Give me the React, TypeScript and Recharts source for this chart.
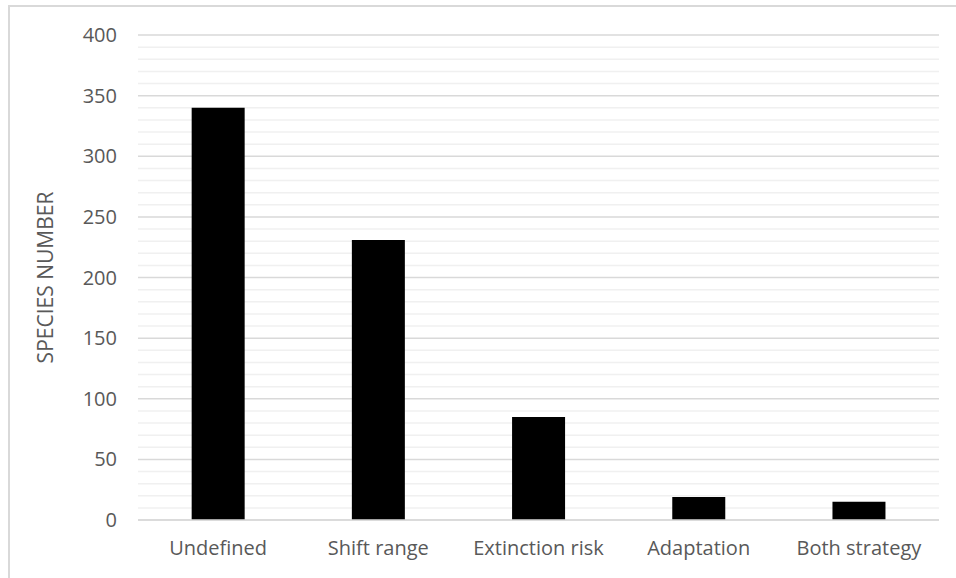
import React from "react";
import { BarChart, Bar, XAxis, YAxis, CartesianGrid } from "recharts";

const categories = ["Undefined", "Shift range", "Extinction risk", "Adaptation", "Both strategy"];
const speciesCounts = [340, 231, 85, 19, 15];
const yTicks = [0, 50, 100, 150, 200, 250, 300, 350, 400];
const minorTicks = [
  10, 20, 30, 40, 60, 70, 80, 90, 110, 120, 130, 140, 160, 170, 180, 190,
  210, 220, 230, 240, 260, 270, 280, 290, 310, 320, 330, 340, 360, 370, 380, 390,
];

const data = categories.map((name, i) => ({ name, value: speciesCounts[i] }));

const font = "'Open Sans', 'Liberation Sans', sans-serif";
const textColor = "#595959";

const App: React.FC = () => {
  return (
    <div style={{ position: "absolute", left: 0, top: 0, width: 956, height: 578, overflow: "hidden", background: "#fff" }}>
      <div
        style={{
          position: "absolute",
          left: 8,
          top: 5,
          width: 1000,
          height: 700,
          borderLeft: "2px solid #d9d9d9",
          borderTop: "2px solid #d9d9d9",
        }}
      />
      <div style={{ position: "absolute", left: 0, top: 0 }}>
        <BarChart
          width={956}
          height={578}
          data={data}
          margin={{ top: 35, right: 17, bottom: 0, left: 38 }}
          barCategoryGap="33.5%"
        >
          <CartesianGrid vertical={false} horizontalValues={minorTicks} stroke="#f0f0f0" strokeWidth={1.5} />
          <CartesianGrid vertical={false} horizontalValues={yTicks} stroke="#d9d9d9" strokeWidth={1.5} />
          <XAxis
            dataKey="name"
            height={58}
            tickLine={false}
            tickSize={0}
            tickMargin={21}
            axisLine={{ stroke: "#d9d9d9", strokeWidth: 1.5 }}
            tick={{ fill: textColor, fontSize: 20, fontFamily: font }}
          />
          <YAxis
            width={100}
            domain={[0, 400]}
            ticks={yTicks}
            interval={0}
            axisLine={false}
            tickLine={false}
            tickSize={0}
            tickMargin={21}
            tick={{ fill: textColor, fontSize: 20, fontFamily: font }}
            label={{
              value: "SPECIES NUMBER",
              angle: -90,
              position: "center",
              dx: -42,
              fill: textColor,
              fontSize: 21,
              fontFamily: font,
            }}
          />
          <Bar dataKey="value" fill="#000000" isAnimationActive={false} />
        </BarChart>
      </div>
    </div>
  );
};

export default App;
